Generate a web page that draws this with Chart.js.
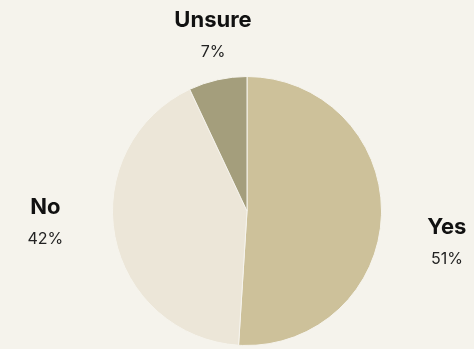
<!DOCTYPE html>
<html>
<head>
<meta charset="utf-8">
<script src="https://cdn.jsdelivr.net/npm/chart.js@4"></script>
<style>
  html, body { margin: 0; padding: 0; background: #f5f3ec; }
  #wrap { width: 474px; height: 349px; position: relative; }
</style>
</head>
<body>
<div id="wrap"><canvas id="myChart"></canvas></div>
<script>
// respuestas y porcentajes
const labels = ['Yes', 'No', 'Unsure'];
const values = [51, 42, 7];
const colors = ['#cdc19a', '#ece6d8', '#a49e7c'];

// etiquetas fuera del pastel
const outsideLabels = {
   id: 'outsideLabels',
   afterDatasetsDraw(chart) {
      const ctx = chart.ctx;
      const arcs = chart.getDatasetMeta(0).data;
      ctx.save();
      ctx.textAlign = 'center';
      ctx.textBaseline = 'middle';
      arcs.forEach(function (arc, i) {
         let mid = (arc.startAngle + arc.endAngle) / 2;
         const side = Math.abs(Math.cos(mid));
         mid += side * 7.4 * Math.PI / 180;
         const off = 37 + 31 * side;
         const x = arc.x + Math.cos(mid) * (arc.outerRadius + off);
         const y = arc.y + Math.sin(mid) * (arc.outerRadius + off);
         ctx.fillStyle = '#111';
         ctx.font = 'bold 22px Inter, "Liberation Sans", sans-serif';
         ctx.fillText(labels[i], x, y - 16);
         ctx.fillStyle = '#222';
         ctx.font = '16px Inter, "Liberation Sans", sans-serif';
         ctx.fillText(values[i] + '%', x, y + 16);
      });
      ctx.restore();
   }
};

const data = {
   labels: labels,
   datasets: [{
      data: values,
      backgroundColor: colors,
      borderColor: '#f5f3ec',
      borderWidth: 1
   }]
};

const config = {
   type: 'pie',
   data: data,
   options: {
      responsive: true,
      maintainAspectRatio: false,
      animation: false,
      layout: { padding: { top: 76, bottom: 3, left: 112, right: 92 } },
      plugins: {
         legend: { display: false },
         tooltip: { enabled: false }
      }
   },
   plugins: [outsideLabels]
};

const myChart = new Chart(document.getElementById('myChart'), config);
</script>
</body>
</html>
